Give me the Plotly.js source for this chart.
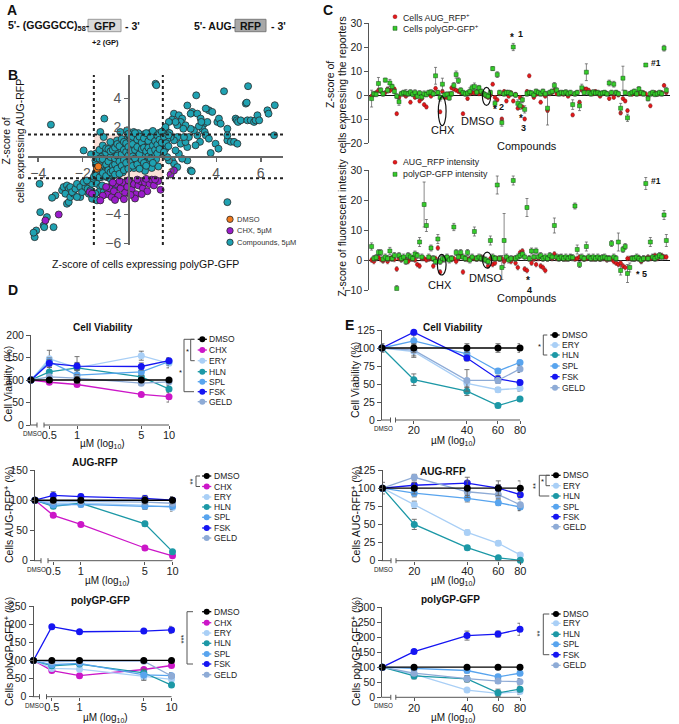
<!DOCTYPE html>
<html><head><meta charset="utf-8">
<script src="https://cdn.plot.ly/plotly-3.0.1.min.js"></script>
<style>html,body{margin:0;padding:0;background:#fff;}#chart{width:679px;height:724px;}</style>
</head><body><div id="chart"></div>
<script>
// ================= DATA =================
// Panel B: z-scores (polyGP-GFP, AUG-RFP)
const bCompounds = [[-3.43,2.18],[-1.96,0.41],[-1.63,0.14],[-1.03,2.6],[1.27,5.0],[1.31,4.9],[3.1,4.2],[4.35,4.48],[5.43,4.83],[6.63,3.52],[6.3,3.17],[6.35,2.94],[5.33,3.63],[5.37,3.7],[4.5,1.9],[4.87,2.6],[4.92,2.48],[4.98,2.37],[5.1,2.48],[5.4,2.48],[5.55,2.48],[5.7,2.37],[5.77,2.48],[5.85,2.83],[5.93,2.48],[6.6,1.45],[4.5,1.1],[4.65,1.0],[4.8,1.0],[4.95,0.87],[4.5,1.45],[3.75,0.23],[3.27,1.0],[2.7,3.5],[2.92,3.06],[2.85,2.94],[3.15,2.94],[3.3,2.6],[3.45,2.25],[3.6,2.37],[3.67,3.17],[3.82,3.06],[3.53,3.29],[3.37,1.9],[3.48,1.68],[3.53,1.45],[3.67,1.22],[3.15,1.45],[3.0,1.79],[2.85,1.9],[4.05,2.37],[4.12,2.6],[4.2,2.25],[3.22,2.07],[3.33,2.37],[3.97,0.87],[4.1,0.53],[2.1,2.94],[2.32,2.83],[2.47,2.6],[2.4,2.37],[2.62,2.14],[2.52,1.9],[2.25,2.14],[2.02,2.53],[2.17,2.37],[1.87,2.37],[2.85,-0.97],[2.9,-1.03],[2.7,-0.28],[2.47,-0.16],[2.32,0.18],[2.17,0.41],[2.02,-0.28],[2.1,-0.5],[2.25,-0.74],[1.87,-0.28],[1.8,-0.05],[1.72,0.53],[4.5,-3.15],[3.07,0.76],[2.7,0.64],[2.4,0.87],[2.62,0.99],[2.77,1.33],[2.55,1.33],[2.25,1.33],[2.1,1.1],[1.95,1.33],[1.8,1.68],[1.87,1.56],[1.65,1.79],[1.72,2.02],
[-4.16,-5.56],[-4.09,-5.1],[-4.21,-5.25],[-3.91,-3.84],[-3.76,-4.76],[-3.73,-4.87],[-3.61,-4.18],[-3.31,-4.87],[-3.23,-2.69],[-3.38,-2.85],[-2.93,-2.34],[-2.86,-2.11],[-2.71,-2.0],[-2.63,-2.23],[-2.56,-2.11],[-2.78,-2.57],[-2.71,-3.26],[-2.63,-3.15],[-2.56,-2.8],[-2.41,-2.57],[-2.48,-2.46],[-2.33,-2.23],[-2.26,-1.89],[-2.11,-2.11],[-3.94,-1.89],[-2.11,-2.8],[-2.03,-2.46],[-1.88,-2.11],[-1.78,-2.23],[-1.66,-2.34],[-1.58,-1.89],[-1.96,-1.77],[-1.81,-1.66],[-1.51,-1.54],[-1.43,-1.2],[-1.36,-1.89],[-1.21,-2.11],[-1.28,-2.46],[-1.43,-2.57],[-1.06,-2.46],[-0.91,-2.23],[-1.13,-2.0],[-1.73,-2.57],[-1.58,-2.92],[-1.36,-3.03],[-0.68,-1.89],[-0.53,-2.11],[-0.31,-2.0],[-1.36,-1.31],[-1.21,-1.43],[-1.06,-1.31],[-0.91,-1.43],[-0.76,-1.54],[-2.26,-2.8],
[-1.4,-1.1],[-1.3,-0.8],[-1.2,-1.3],[-1.1,-0.6],[-1.0,-1.0],[-1.0,-0.3],[-0.9,-1.2],[-0.9,-0.7],[-0.8,-0.2],[-0.8,-0.9],[-0.7,-1.3],[-0.7,-0.5],[-0.6,0.1],[-0.6,-0.8],[-0.5,-0.3],[-0.5,-1.1],[-0.4,0.3],[-0.4,-0.6],[-0.3,-0.1],[-0.3,-0.9],[-0.2,0.4],[-0.2,-0.4],[-0.1,0.1],[-0.1,-0.7],[0,0.5],[0,-0.2],[0.1,0.8],[0.1,-0.5],[0.2,0.2],[0.2,-0.1],[0.3,0.6],[0.3,-0.4],[0.4,1.0],[0.4,0.1],[0.5,0.4],[0.5,-0.3],[0.6,0.8],[0.6,1.2],[0.7,0.3],[0.7,0.0],[0.8,0.7],[0.8,1.1],[0.9,0.4],[0.9,1.4],[1.0,0.8],[1.0,0.1],[1.1,1.2],[1.1,0.5],[1.2,0.9],[1.2,1.5],[1.3,0.6],[1.3,1.2],[1.4,1.0],[1.4,1.6],[1.5,0.8],[1.5,1.3],[1.6,1.1],[1.7,1.5],[1.2,0.2],[0.9,-0.2],[-1.3,-0.3],[-1.4,-0.5],[-1.2,0.1],[-1.5,-1.4],[-0.6,-0.4],[-0.4,-0.1],[0.0,0.2],[0.3,0.2],[0.6,0.5],[0.2,1.0],[-0.1,0.7],[-0.3,0.5],[-0.5,0.2],[-0.8,0.3],[0.4,1.3],[0.7,1.5],[0.0,1.2],[0.5,0.9],[0.8,0.1],[1.0,-0.4],[0.6,-0.6],[0.3,-0.8],[-0.2,-1.1],[-0.6,-1.3],[-1.1,-1.4],[1.3,-0.2],[1.5,0.3],[1.1,-0.8],[0.8,-1.0],[1.4,-0.7],[-0.9,0.0],[-1.1,0.4],[0.1,1.4],[-0.3,1.0],[-0.7,0.7],[1.6,0.6],[1.8,1.2],[1.9,1.6],[1.0,1.6],[0.5,1.6],[-1.21,1.68],[-1.06,1.33],[-0.76,0.99],[-0.46,1.1],[-0.31,1.68],[-0.01,1.79],[0.29,1.68],[0.22,1.45],[-1.43,-0.28],[-1.28,-0.5],[-1.36,-0.97],
[-1.4,-1.3],[-1.4,-0.6],[-1.4,0.2],[-1.25,-1.45],[-1.25,-0.95],[-1.25,-0.15],[-1.25,0.45],[-1.1,-1.15],[-1.1,-0.2],[-1.1,0.75],[-0.95,-1.35],[-0.95,-0.55],[-0.95,0.25],[-0.95,0.55],[-0.85,-0.95],[-0.85,-0.35],[-0.85,0.5],[-0.75,-1.1],[-0.75,-0.05],[-0.75,0.35],[-0.65,-0.65],[-0.65,0.45],[-0.65,-1.0],[-0.55,-0.55],[-0.55,0.6],[-0.55,-0.15],[-0.55,-1.25],[-0.45,-0.85],[-0.45,0.05],[-0.45,0.85],[-0.35,-0.35],[-0.35,0.7],[-0.35,-1.2],[-0.25,0.15],[-0.25,-0.65],[-0.25,1.2],[-0.15,-0.25],[-0.15,0.45],[-0.15,-0.95],[-0.15,1.0],[-0.05,0.3],[-0.05,-0.45],[-0.05,0.9],[0.05,-0.85],[0.05,0.05],[0.05,0.65],[0.05,1.55],[0.15,0.35],[0.15,-0.3],[0.15,1.15],[0.25,0.85],[0.25,-0.65],[0.25,0.0],[0.25,1.35],[0.35,0.45],[0.35,-0.15],[0.35,1.6],[0.45,0.65],[0.45,-0.55],[0.45,1.15],[0.55,0.15],[0.55,1.35],[0.55,-0.85],[0.65,0.95],[0.65,-0.25],[0.65,0.5],[0.75,1.25],[0.75,-0.45],[0.75,0.6],[0.85,0.35],[0.85,1.6],[0.85,-0.65],[0.95,1.05],[0.95,0.0],[0.95,0.6],[1.05,1.35],[1.05,0.35],[1.05,-0.15],[1.15,0.75],[1.15,1.75],[1.15,-0.45],[1.25,0.45],[1.25,1.05],[1.35,1.45],[1.35,0.2],[1.35,0.8],[1.45,1.15],[1.45,0.5],[1.55,1.7],[1.55,0.95],[1.65,1.35],[1.65,0.3],[1.75,0.9],[1.85,1.45],[1.85,0.7]];
const bChx = [[-0.9,-2.6],[-0.8,-2.2],[-0.7,-2.8],[-0.6,-2.4],[-0.5,-1.9],[-0.4,-2.7],[-0.3,-2.2],[-0.2,-1.8],[-0.1,-2.5],[0,-2.1],[0.1,-1.7],[0.2,-2.3],[0.3,-1.9],[0.4,-2.6],[0.5,-2.0],[0.6,-1.7],[0.7,-2.2],[0.8,-1.8],[0.9,-2.4],[1.0,-1.9],[1.1,-1.6],[1.2,-2.0],[1.4,-1.7],[1.5,-2.3],[0.35,-2.9],[-0.15,-2.95],[-0.55,-3.0],[0.65,-2.6],[-0.95,-2.1],[0.05,-1.65],[-0.35,-1.7],[0.85,-1.55],[1.25,-1.6],[0.15,-2.65],[-0.65,-1.8],[0.45,-1.6],[-1.1,-2.7],[-1.69,-2.46],[-1.58,-2.57],[-1.21,-3.03],[-3.08,-4.0],[-3.68,-4.41],[1.95,-1.25],[2.1,-0.97]];
const bDmso = [[-1.36,-0.85],[-1.3,-0.7]];

// Panel C: z-scores per compound (in screening order)
const cCntRfp = [-0.5,0.3,1,2,1.5,0.5,1,2.5,1.8,2.5, 2.5,-7.8,-1,0.5,0.3,-0.5,0.5,-3,0.5,-1, 0.2,-2.5,-1.5,-4,-5,0.5,-0.5,1,2.8,1, -7,1.5,-1,-1,0.5,3,2.5,2,1.5,1, -7.8,0.5,-1.5,0.5,1,0.8,1.5,0.5,1,0.2, -0.5,-1,0,4.5,-1,-2,0.5,-10,1.5,-2.5, -0.5,1,-2.5,0.3,-5.5,-1,-5,-10,1.5,8, 0.5,-1,0.3,0.5,-3,0.5,-0.5,-6.5,0.5,1, 2,0.5,1,0.5,0.3,1,-0.5,0.5,-8.3,0.5, 1,-3,2,2.5,2.5,2,1,0.5,1.5,0.5, -0.5,0.5,1,0.5,-1.5,0.5,-1,1,0,-7.5, -1.5,-2.5,-6.5,0.5,0.3,1,0.5,0.5,0.5,1, 0.5,-1,-4.5,0.5,1,0.3,0.5,1,4,1];
const cCntGfp = [-1.5,0.5,0.3,4.8,2,0.5,6.2,2,5,3.5, 1.5,-0.5,-2.8,0.5,1,0.8,0.5,1.2,0.3,1, -0.5,0.8,-0.8,0.5,0.2,1,1.2,0.5,8,1, -1,4.5,0,0.3,-1.2,0.5,4,8.5,6,2, 1,0.5,0.8,1.5,3,3.5,1.2,3,1.5,0.5, 0,-0.5,1,11,-3.5,8.5,1,-11.5,0.5,1, 1,0.5,20,0,-3.5,-4.5,-2,-6,0.5,1, 0.8,0,1.5,1,0.5,1.5,0.5,-5.5,1,1.5, 4,2,0.5,1,0.8,1.2,0.5,1,-4,0.5, 1,-4.5,3,1,9.5,1,0.5,1.2,0.8,1, 0.5,0.8,1,0.5,5,1,4.5,1,0.5,-5.5, 7,1,-9.5,0.5,1,1.5,0.5,2.5,1,0.5, 12.5,-1.5,0.5,1,0.3,0.5,1,0.5,19.5,2];
const cCntGfpErr = [3.5,1,1,2.5,1,1,0.8,1.2,1.5,1, 1,1,1.5,1,1,1.5,1,1,1,1.2, 1,1,1,1.2,1,1,1,1,3.5,1, 1.5,2.5,1,1,1,1,1.2,1.5,1.2,1, 1,1,1,1.5,1.2,1.5,1,1,1,1, 1,1,1,0.8,1.2,1.2,1,1.5,1,1, 1,1,1.5,1,1.5,1.5,1.2,1.5,1,1, 1,1,1,1,1,1,1,7,1,1, 1.2,1,1,1,1,1,1,1,2,1, 1,2,1.5,1,3.5,1,1,1,1,1, 1,1,1,1,1.2,1,1.2,1,1,2, 5,1,1.5,1,1,1,1,1,1,1, 0.6,1,1,1,1,1,1,1,1.2,1.2];
const cIntRfp = [0,-0.5,0.5,1,0.2,-0.3,0.5,-0.5,0.5,0.8, 0.2,-3,0.5,0,0.5,0.2,-0.5,0.3,0.5,0, -1.5,-2,0.5,0.5,0,0.3,0.5,-2,0.5,4, -4,0,0.5,0.8,0.5,0.2,0.5,-0.5,0.5,1.5, -4,0.5,0.2,0.5,0.8,0.5,0.3,0.5,1,0.5, 0,-2,0.5,-1.5,-1,0.5,0.3,0.5,-0.5,0.5, 0.3,-0.5,0.5,-1,-2.5,2.5,3,-3,-3.5,0.5, -1,0.3,-1.5,0.5,-2,-2.5,-3.5,0.5,1,0.5, 2,0.5,1,1,0.5,0.3,0.5,1,0.5,0.3, 0.5,1,0.5,0.3,0.5,0.8,0.5,0.3,0.5,0.5, 0.3,0.5,0.5,0,0.5,0.3,-0.5,-1,-1.5,-1, -2,-2.5,0.5,0.5,0.5,0.3,0.5,0.8,-0.5,0.5, 0.5,1,0.5,1,1.5,0.5,1,1.5,1,1];
const cIntGfp = [4.5,0.5,0.8,2.5,2.5,0.3,1,0.5,3,0.5, 1.5,-9.5,1.5,0.5,1,-0.5,1.5,1,0.5,2, 1.5,6,1,18.5,11.5,1,4,0.5,-0.5,7, -0.5,0.5,0.3,1,0,0.5,11,2.5,1,2.5, 1,0.5,2.5,0,1,9.5,0.5,1,0.5,0.3, 0,-0.5,6.5,1,0.5,25,0.5,-2.5,6.5,1, 0,0.5,26.5,0.5,1,1.5,2,1,17.5,0.5, 3,1,3,1,1.5,0.5,1,0.5,1.5,1, 11.5,1,0.5,1,0.5,1,0.5,1,0.8,18, 3.5,-1.5,1,0.5,4.5,1,0.5,1,0.5,1, 0.5,0.8,1,0.5,0.5,5.5,1,0.5,6,-3.5, 3.5,4.5,-4.5,-2.5,0.5,0.5,1,0.5,0,0.5, 25.5,0.5,6,1,0.5,1,1.5,1,15,6.5];
const cIntGfpErr = [1.2,1,1,1,1,1,1,1,1.2,1, 1,1,1,1,1,1,1,1,1,1, 1,1.5,1,7.5,2,1,1,1,1,1.5, 1,1,1,1,1,1,1.2,1,1,1, 1,1,1,1,1,1.5,1,1,1,1, 1,1,1.5,1,1,3,1,4,9,1, 1,1,1.5,1,1,1,1,1,3,1, 1,1,1,1,1,1,1,1,1,1, 2.5,1,1,1,1,1,1,1,1,1, 1.5,1,1,1,1.5,1,1,1,1,1, 1,1,1,1,1,1,1,1,3,1.5, 1,1,3,1.5,1,1,1,1,1,1, 2,1,1.5,1,1,1,1,1,1.5,2];

// Panel D: concentrations (µM); each row = [DMSO control, dose1..dose4] in %
const dDoses = [0.5, 1, 5, 10];
const dCompounds = ['DMSO','CHX','ERY','HLN','SPL','FSK','GELD'];
const dViab = [[100,100,100,100,100],[100,95,90,68,63],[100,147,127,154,137],[100,118,127,107,80],[100,141,111,118,141],[100,137,131,130,143],[100,107,104,93,96]];
const dViabErr = [[0,4,8,6,5],[0,4,4,4,12],[0,19,25,10,10],[0,10,10,8,8],[0,8,10,8,8],[0,8,8,8,6],[0,5,8,5,5]];
const dRfp = [[100,100,100,100,100],[100,75,60,21,8],[100,95,95,92,88],[100,90,95,61,15],[100,92,93,90,90],[100,108,106,103,100],[100,98,98,97,95]];
const dRfpErr = [[0,4,4,6,6],[0,3,3,3,2],[0,5,4,6,6],[0,4,4,4,3],[0,4,4,5,5],[0,6,4,5,5],[0,4,4,4,4]];
const dGfp = [[100,100,100,100,100],[100,72,58,75,86],[100,78,76,55,48],[100,85,90,66,32],[100,88,92,60,58],[100,193,179,181,184],[100,96,98,98,57]];
const dGfpErr = [[0,4,4,4,4],[0,4,4,4,4],[0,5,5,8,6],[0,5,4,10,5],[0,5,5,15,8],[0,4,4,4,10],[0,4,4,4,6]];

// Panel E
const eDoses = [20, 40, 60, 80];
const eCompounds = ['DMSO','ERY','HLN','SPL','FSK','GELD'];
const eViab = [[100,100,100,100,100],[100,95,51,42,44],[100,56,40,20,29],[100,110,92,68,80],[100,122,86,57,52],[100,97,55,55,71]];
const eViabErr = [[6,6,6,6,6],[0,8,6,3,4],[0,8,6,3,3],[0,8,5,3,3],[0,3,4,5,4],[0,8,15,4,5]];
const eRfp = [[100,100,100,100,100],[100,77,39,24,8],[100,50,18,4,0.5],[100,93,86,80,74],[100,104,107,100,91],[100,115,95,91,77]];
const eRfpErr = [[8,8,10,10,10],[0,5,3,3,3],[0,7,3,2,2],[0,5,5,4,5],[0,4,8,5,4],[0,4,8,5,8]];
const eGfp = [[100,100,100,100,100],[100,77,24,13,19],[100,71,61,15,27],[100,95,89,68,80],[100,152,205,210,226],[100,80,62,54,52]];
const eGfpErr = [[4,4,4,4,4],[0,5,5,8,10],[0,10,10,12,10],[0,5,8,8,8],[0,5,15,10,20],[0,8,10,8,10]];

// ================= STYLE / LAYOUT =================
const W = 679, H = 724;
const px = x => x / W, py = y => 1 - y / H;
const FONT = 'Arial, "Liberation Sans", Helvetica, sans-serif';
const COL = {DMSO:'#000000', CHX:'#cc16c8', ERY:'#a9cff6', HLN:'#1c98a6', SPL:'#58a4ee', FSK:'#1515f2', GELD:'#8eabd6'};
const AX = '#555555';
const data = [], shapes = [], annotations = [];
const layout = {width:W, height:H, margin:{l:0,r:0,t:0,b:0}, paper_bgcolor:'#fff', plot_bgcolor:'rgba(0,0,0,0)',
  showlegend:false, font:{family:FONT, color:'#222'}, shapes:shapes, annotations:annotations};

function ann(x, y, text, size, o) {
  o = o || {};
  annotations.push({xref:o.xref||'paper', yref:o.yref||'paper', x:o.xref?x:px(x), y:o.yref?y:py(y),
    text:text, showarrow:false, font:{family:FONT, size:size, color:o.color||'#111'},
    xanchor:o.xanchor||'center', yanchor:o.yanchor||'middle', textangle:o.angle||0, borderpad:0});
}
function line(x0,y0,x1,y1,color,width,dash){
  shapes.push({type:'line',xref:'paper',yref:'paper',x0:px(x0),y0:py(y0),x1:px(x1),y1:py(y1),line:{color:color||AX,width:width||1,dash:dash||'solid'}});
}
function circ(cx,cy,r,fill,lc,lw){
  shapes.push({type:'circle',xref:'paper',yref:'paper',x0:px(cx-r),x1:px(cx+r),y0:py(cy+r),y1:py(cy-r),fillcolor:fill,line:{color:lc||fill,width:lw||0}});
}
function rect(x0,y0,x1,y1,fill,lc,lw){
  shapes.push({type:'rect',xref:'paper',yref:'paper',x0:px(x0),x1:px(x1),y0:py(y1),y1:py(y0),fillcolor:fill,line:{color:lc||fill,width:lw||0}});
}

// ---------- Panel letters ----------
ann(11.7,10,'<b>A</b>',14); ann(13,75,'<b>B</b>',14); ann(328,10,'<b>C</b>',14);
ann(13,290,'<b>D</b>',14); ann(350,325,'<b>E</b>',14);

// ---------- Panel A ----------
ann(7,25.5,"<b>5'- (GGGGCC)<sub>58</sub>-</b>",10.5,{xanchor:'left'});
rect(88,19.3,121,31.7,'#d9d9d9','#9a9a9a',1);
ann(104.5,25.5,'<b>GFP</b>',10.5);
ann(124,25.5,"<b>- 3'</b>",10.5,{xanchor:'left'});
ann(105,42,'<b>+2 (GP)</b>',7.5);
ann(193,25.5,"<b>5'- AUG-</b>",10.5,{xanchor:'left'});
rect(235,19.3,266,31.7,'#a8a8a8','#7a7a7a',1);
ann(250.5,25.5,'<b>RFP</b>',10.5);
ann(270,25.5,"<b>- 3'</b>",10.5,{xanchor:'left'});

// ---------- Panel B ----------
layout.xaxis = {domain:[px(28),px(283)], range:[-4.46,7.0], anchor:'free', position:py(156),
  showline:true, linecolor:'#666', linewidth:1.5, ticks:'outside', ticklen:4, tickcolor:'#666', tickwidth:1.5,
  tickmode:'array', tickvals:[-4,-2,2,4,6], tickfont:{family:FONT,size:14,color:'#555'}, showgrid:false, zeroline:false};
layout.yaxis = {domain:[py(245),py(75)], range:[-6.1,5.6], anchor:'free', position:px(128),
  showline:true, linecolor:'#666', linewidth:1.5, ticks:'outside', ticklen:4, tickcolor:'#666', tickwidth:1.5,
  tickmode:'array', tickvals:[-6,-4,2,4], tickfont:{family:FONT,size:14,color:'#555'}, showgrid:false, zeroline:false};
shapes.push({type:'rect',xref:'x',yref:'y',x0:-1.5,x1:1.6,y0:-1.5,y1:1.5,fillcolor:'rgba(246,200,185,0.55)',line:{width:0},layer:'below'});
[-1.5,1.6].forEach(v=>shapes.push({type:'line',xref:'x',yref:'y',x0:v,x1:v,y0:-6.1,y1:5.6,line:{color:'#222',width:2,dash:'dot'}}));
[-1.5,1.5].forEach(v=>shapes.push({type:'line',xref:'x',yref:'y',x0:-4.46,x1:7.0,y0:v,y1:v,line:{color:'#222',width:2,dash:'dot'}}));
const bTr = (pts,color) => ({x:pts.map(p=>p[0]), y:pts.map(p=>p[1]), xaxis:'x', yaxis:'y', type:'scatter', mode:'markers', cliponaxis:false,
  marker:{size:7, color:color, line:{color:'#2b2b2b', width:0.8}}, hoverinfo:'skip'});
data.push(bTr(bCompounds,'#1fa2b2'), bTr(bChx,'#9a1ccb'), bTr(bDmso,'#f07a1e'));
ann(145,264,'Z-score of cells expressing polyGP-GFP',10.5);
ann(13,141,'Z-score of<br>cells expressing AUG-RFP',10.5,{angle:-90});
[['DMSO','#f07a1e',219.3],['CHX, 5µM','#9a1ccb',230.7],['Compounds, 5µM','#1fa2b2',242.3]].forEach(it=>{
  circ(230,it[2],3.2,it[1],'#2b2b2b',0.8); ann(235.5,it[2],it[0],7.5,{xanchor:'left',color:'#333'});
});

// ---------- Panel C ----------
const cIdx = cCntRfp.map((_, i) => i);
function cPanel(ax, yTop, yBot, yr, yticks, rfp, gfp, gfpErr) {
  layout['xaxis'+ax] = {domain:[px(369.3),px(670)], range:[-1,130.6], anchor:'y'+ax, visible:true, showline:false,
    showticklabels:false, ticks:'', showgrid:false, zeroline:false};
  layout['yaxis'+ax] = {domain:[py(yBot),py(yTop)], range:yr, anchor:'x'+ax, showline:true, linecolor:AX, linewidth:1,
    ticks:'outside', ticklen:4, tickcolor:AX, tickmode:'array', tickvals:yticks, showgrid:false,
    zeroline:true, zerolinecolor:'#111', zerolinewidth:1, tickfont:{family:FONT,size:10.5,color:'#222'}};
  data.push({x:cIdx, y:rfp, xaxis:'x'+ax, yaxis:'y'+ax, type:'scatter', mode:'markers', cliponaxis:false, hoverinfo:'skip',
    error_y:{type:'constant', value:0.8, color:'#666', thickness:0.6, width:1.2},
    marker:{symbol:'circle', size:3.8, color:'#e3191c', line:{color:'#7a0000', width:0.4}}});
  data.push({x:cIdx, y:gfp, xaxis:'x'+ax, yaxis:'y'+ax, type:'scatter', mode:'markers', cliponaxis:false, hoverinfo:'skip',
    error_y:{type:'data', array:gfpErr, color:'#555', thickness:0.7, width:1.5},
    marker:{symbol:'square', size:4, color:'#35cc2a', line:{color:'#154a15', width:0.5}}});
}
cPanel(2, 23, 143, [-20,30], [-20,-10,0,10,20,30], cCntRfp, cCntGfp, cCntGfpErr);
cPanel(3, 170, 290, [-10,30], [-10,0,10,20,30], cIntRfp, cIntGfp, cIntGfpErr);
function ell(ax,x0,x1,y0,y1){shapes.push({type:'circle',xref:'x'+ax,yref:'y'+ax,x0:x0,x1:x1,y0:y0,y1:y1,line:{color:'#111',width:1.2}});}
ell(2,29.2,32.6,-12.8,-0.7); ell(2,48.5,52.1,-4.3,3.2);
ell(3,28.8,32.6,-5,1.9); ell(3,48.6,52.6,-2.7,2.6);
const dr = (ax)=>({xref:'x'+ax, yref:'y'+ax});
ann(31.4,-14.6,'CHX',11,dr(2)); ann(46.5,-10.8,'DMSO',11,dr(2));
ann(61.6,24,'<b>*</b>',10,dr(2)); ann(65.2,25.3,'<b>1</b>',9,dr(2));
ann(54,-6.2,'<b>*</b>',10,dr(2)); ann(56.8,-5.2,'<b>2</b>',9,dr(2));
ann(65.5,-9.8,'<b>*</b>',10,dr(2)); ann(66.3,-13.6,'<b>3</b>',9,dr(2));
ann(124.5,13.2,'<b>#1</b>',8.5,dr(2)); ann(132.2,19.9,'<b>#2</b>',8.5,dr(2));
ann(30,-8.3,'CHX',11,dr(3)); ann(50,-6,'DMSO',11,dr(3));
ann(61.6,30.6,'<b>*</b>',10,dr(3)); ann(65.2,31,'<b>1</b>',9,dr(3));
ann(124.5,26.5,'<b>#1</b>',8.5,dr(3)); ann(132.5,15.2,'<b>#2</b>',8.5,dr(3));
ann(68.6,-6.7,'<b>*</b>',10,dr(3)); ann(529.5,290,'<b>4</b>',9);
ann(118,-4.8,'<b>* 5</b>',9,dr(3));
ann(527,146,'Compounds',11); ann(527,298,'Compounds',11);
ann(330,85,'Z-score of',10.5,{angle:-90}); ann(341.5,85,'cells expressing the reporters',10.5,{angle:-90});
ann(341.5,228,'Z-score of fluorescent intesity',10.5,{angle:-90});
[['Cells AUG_RFP<sup>+</sup>',16.7,'c'],['Cells polyGP-GFP<sup>+</sup>',28.3,'s'],['AUG_RFP intensity',162.3,'c'],['polyGP-GFP intensity',174.3,'s']].forEach(it=>{
  if (it[2]==='c') circ(395,it[1],2,'#e3191c','#7a0000',0.4);
  else rect(393,it[1]-2,397,it[1]+2,'#35cc2a','#154a15',0.5);
  ann(401.5,it[1],it[0],8.8,{xanchor:'left',color:'#222'});
});

// ---------- Panels D & E ----------
function dosePanel(c) {
  const ax = c.ax;
  layout['xaxis'+ax] = {domain:[px(c.x0),px(c.x1)], type:'log', range:[Math.log10(c.dmsoX), Math.log10(c.xmax)], anchor:'y'+ax,
    showline:false, showgrid:false, zeroline:false, ticks:'outside', ticklen:3, tickcolor:AX, tickwidth:1, ticklabelstandoff:-3,
    tickmode:'array', tickvals:c.doses, ticktext:c.doses.map(String), tickfont:{family:FONT,size:11,color:'#222'}};
  layout['yaxis'+ax] = {domain:[py(c.yb),py(c.yt)], range:c.yr, anchor:'x'+ax, showline:true, linecolor:AX, linewidth:1,
    ticks:'outside', ticklen:4, tickcolor:AX, tickmode:'array', tickvals:c.yticks, showgrid:false, zeroline:false,
    tickfont:{family:FONT,size:10.5,color:'#222'}};
  const xs = [c.dmsoX].concat(c.doses);
  const order = c.names.map((n,i)=>i).filter(i=>c.names[i]!=='DMSO').concat([c.names.indexOf('DMSO')]);
  order.forEach(i=>{
    const col = COL[c.names[i]];
    data.push({x:xs, y:c.vals[i], xaxis:'x'+ax, yaxis:'y'+ax, type:'scatter', mode:'lines+markers', cliponaxis:false, hoverinfo:'skip',
      line:{color:col, width:1.3}, marker:{size:7, color:col},
      error_y:{type:'data', array:c.errs[i], color:'#666', thickness:0.9, width:2.5}});
  });
  // broken x axis line
  const ya = c.yb;
  line(c.x0-1, ya, c.x0+c.segEnd, ya); line(c.x0+c.segEnd, ya-2.5, c.x0+c.segEnd, ya+2.5);
  line(c.x0+c.mainStart, ya, c.x1, ya); line(c.x0+c.mainStart, ya-2.5, c.x0+c.mainStart, ya+2.5);
  ann(c.x0+1, ya+8.5, 'DMSO', 6.3, {color:'#222'});
  ann(c.tx, c.ty, '<b>'+c.title+'</b>', 10);
  ann(c.ytx, c.yty, c.ytitle, 10.5, {angle:-90});
  ann(c.xtx, c.xty, 'µM (log<sub>10</sub>)', 10);
  c.names.forEach((n,i)=>{
    const col = COL[n], y = c.ly[i];
    line(c.lx-4.6, y, c.lx+4.6, y, col, 1.3); circ(c.lx, y, 3, col);
    ann(c.lx+6, y, n, 8.5, {xanchor:'left', color:'#222'});
  });
  c.brackets.forEach(b=>{
    line(b.x, b.t, b.x, b.b); line(b.x, b.t, b.x+b.w, b.t); line(b.x, b.b, b.x+b.w, b.b);
    ann(b.sx, b.sy, b.s, 7.5, {angle: b.s.length>1 ? -90 : 0});
  });
}
const DX_D = 0.316, DX_E = 13.2; // x placement of the DMSO control on the broken axis
dosePanel({ax:4, x0:31, x1:169, yb:425, yt:335, yr:[0,200], yticks:[0,50,100,150,200], dmsoX:DX_D, xmax:10, doses:dDoses,
  names:dCompounds, vals:dViab, errs:dViabErr, segEnd:6, mainStart:13, title:'Cell Viability', tx:103, ty:327,
  ytitle:'Cell Viability (%)', ytx:8, yty:384, xtx:103, xty:444, lx:202.3, ly:[339.3,350,360.7,371.7,381.7,391.7,401.7],
  brackets:[{x:190.7,t:339.3,b:360.7,w:4,s:'*',sx:187,sy:351},{x:184,t:339.3,b:391.7,w:10,s:'*',sx:180,sy:372}]});
dosePanel({ax:5, x0:35, x1:172.5, yb:560.7, yt:470, yr:[0,150], yticks:[0,50,100,150], dmsoX:DX_D, xmax:10, doses:dDoses,
  names:dCompounds, vals:dRfp, errs:dRfpErr, segEnd:6, mainStart:13, title:'AUG-RFP', tx:95, ty:463,
  ytitle:'Cells AUG-RFP<sup>+</sup> (%)', ytx:8, yty:515, xtx:107, xty:581, lx:206.7, ly:[476,486.5,497,507,517.3,528,538],
  brackets:[{x:196,t:476,b:486.5,w:4,s:'**',sx:192,sy:481.5}]});
dosePanel({ax:6, x0:33.5, x1:171.5, yb:696.7, yt:606, yr:[0,250], yticks:[0,50,100,150,200,250], dmsoX:DX_D, xmax:10, doses:dDoses,
  names:dCompounds, vals:dGfp, errs:dGfpErr, segEnd:6, mainStart:13, title:'polyGP-GFP', tx:100, ty:600,
  ytitle:'Cells polyGP-GFP<sup>+</sup> (%)', ytx:8, yty:652, xtx:105, xty:718, lx:206.7, ly:[611.7,622.7,633,643.3,654,664,674.7],
  brackets:[{x:187,t:611.7,b:664,w:6,s:'***',sx:182.5,sy:639}]});
dosePanel({ax:7, x0:382, x1:520, yb:420, yt:330, yr:[0,125], yticks:[0,25,50,75,100,125], dmsoX:DX_E, xmax:80, doses:eDoses,
  names:eCompounds, vals:eViab, errs:eViabErr, segEnd:8.5, mainStart:13.5, title:'Cell Viability', tx:453, ty:327,
  ytitle:'Cell Viability (%)', ytx:355, yty:380, xtx:453, xty:441, lx:555, ly:[335,345,355,366,376.7,387.7],
  brackets:[{x:543.3,t:335,b:355,w:4,s:'*',sx:539.5,sy:346}]});
dosePanel({ax:8, x0:382.5, x1:520.3, yb:560.7, yt:470, yr:[0,125], yticks:[0,25,50,75,100,125], dmsoX:DX_E, xmax:80, doses:eDoses,
  names:eCompounds, vals:eRfp, errs:eRfpErr, segEnd:8.5, mainStart:13.5, title:'AUG-RFP', tx:443, ty:471.7,
  ytitle:'Cells AUG-RFP<sup>+</sup> (%)', ytx:355, yty:515, xtx:453, xty:581, lx:556, ly:[475.3,485.7,496,506.7,516.7,526.7],
  brackets:[{x:546,t:475.3,b:485.7,w:4,s:'*',sx:542.5,sy:481},{x:539.3,t:475.3,b:496,w:10,s:'**',sx:535.5,sy:486.5}]});
dosePanel({ax:9, x0:382.3, x1:520, yb:697.3, yt:607, yr:[0,300], yticks:[0,50,100,150,200,250,300], dmsoX:DX_E, xmax:80, doses:eDoses,
  names:eCompounds, vals:eGfp, errs:eGfpErr, segEnd:8.5, mainStart:13.5, title:'polyGP-GFP', tx:450, ty:599.3,
  ytitle:'Cells polyGP-GFP<sup>+</sup> (%)', ytx:355, yty:652, xtx:453, xty:718, lx:556, ly:[614,623.3,634.3,644.3,654.7,665.3],
  brackets:[{x:543.3,t:614,b:654.7,w:6,s:'**',sx:538.5,sy:634}]});

Plotly.newPlot('chart', data, layout, {staticPlot:true, displayModeBar:false});
</script>
</body></html>
